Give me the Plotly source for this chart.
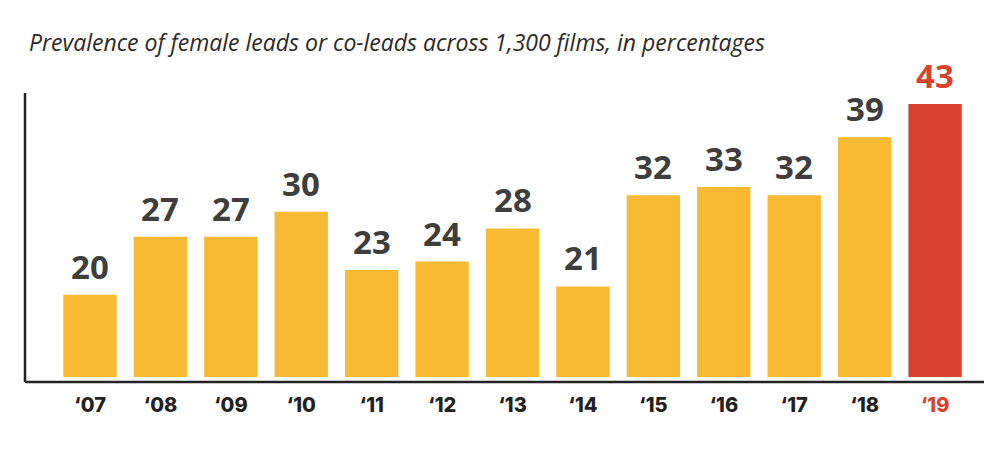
import plotly.graph_objects as go

years = ["\u201807", "\u201808", "\u201809", "\u201810", "\u201811", "\u201812", "\u201813",
         "\u201814", "\u201815", "\u201816", "\u201817", "\u201818", "\u201819"]
values = [20, 27, 27, 30, 23, 24, 28, 21, 32, 33, 32, 39, 43]
title_text = "Prevalence of female leads or co-leads across 1,300 films, in percentages"

YELLOW = "#F9BA33"
RED = "#D7432E"
GRAY = "#3E3E3E"
AXIS = "#222222"

n = len(values)
xs = list(range(n))
colors = [YELLOW] * (n - 1) + [RED]
label_colors = [GRAY] * (n - 1) + [RED]
tick_colors = ["#222222"] * (n - 1) + [RED]

fig = go.Figure()
fig.add_trace(go.Bar(
    x=xs, y=values, marker=dict(color=colors, line=dict(width=0)),
    width=0.758, hoverinfo="skip",
))

for xi, v, c in zip(xs, values, label_colors):
    fig.add_annotation(
        x=xi, y=v, text=f"<span style='font-stretch:75%'>{v}</span>",
        showarrow=False, yanchor="bottom", yshift=4,
        font=dict(family="Noto Sans, DejaVu Sans, sans-serif", size=33, color=c, weight="bold"),
    )

ticktext = [f"<span style='color:{c}'>{t}</span>" for t, c in zip(years, tick_colors)]

fig.update_layout(
    width=990, height=446,
    margin=dict(l=17, r=14, t=85, b=77),
    paper_bgcolor="white", plot_bgcolor="white",
    showlegend=False,
    xaxis=dict(range=[-0.923, 12.695], tickvals=xs, ticktext=ticktext,
               showgrid=False, zeroline=False, showline=False,
               ticks="", ticklabelstandoff=14,
               tickfont=dict(family="Inter, Lato, sans-serif", size=20, color="#222222", weight=800),
               fixedrange=True),
    yaxis=dict(range=[10.08, 44.34], showgrid=False, zeroline=False, showline=False,
               showticklabels=False, ticks="", fixedrange=True),
    shapes=[
        dict(type="line", xref="paper", yref="paper", x0=0, x1=0, y0=1, y1=-0.0176,
             line=dict(color=AXIS, width=2.5)),
        dict(type="line", xref="paper", yref="paper", x0=0, x1=1, y0=-0.0176, y1=-0.0176,
             line=dict(color=AXIS, width=2.5)),
    ],
)

fig.add_annotation(
    xref="paper", yref="paper", x=0, xshift=2, y=1, yshift=51, xanchor="left", yanchor="middle",
    text=f"<i>{title_text}</i>", showarrow=False,
    font=dict(family="Open Sans, Lato, sans-serif", size=23, color="#2a2a2a"),
)

fig.write_html("out.html")
